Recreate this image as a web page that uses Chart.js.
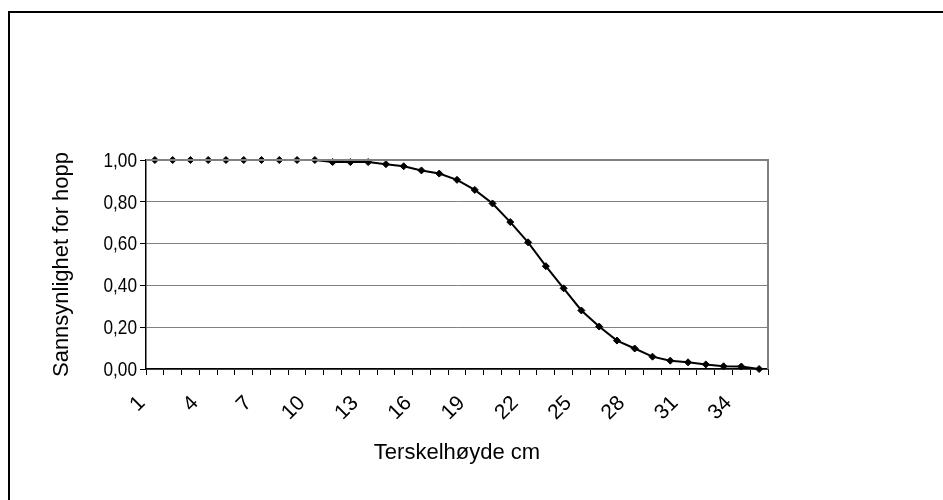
<!DOCTYPE html>
<html>
<head>
<meta charset="utf-8">
<title>Sannsynlighet for hopp</title>
<script src="https://cdn.jsdelivr.net/npm/chart.js@4/dist/chart.umd.min.js"></script>
<style>
  html, body { margin: 0; padding: 0; background: #fff; }
  canvas { display: block; }
</style>
</head>
<body>
<canvas id="chart" width="943" height="500"></canvas>
<script>
// Threshold heights (cm) on the category axis
const heights = [1, 2, 3, 4, 5, 6, 7, 8, 9, 10, 11, 12, 13, 14, 15, 16, 17, 18,
                 19, 20, 21, 22, 23, 24, 25, 26, 27, 28, 29, 30, 31, 32, 33, 34, 35];

// Probability of a jump at each threshold height
const jumpProbability = [1.00, 1.00, 1.00, 1.00, 1.00, 1.00, 1.00, 1.00, 1.00, 1.00,
                         0.99, 0.99, 0.99, 0.98, 0.97, 0.95, 0.935, 0.905, 0.857, 0.792,
                         0.703, 0.606, 0.492, 0.386, 0.280, 0.203, 0.136, 0.098, 0.059, 0.040,
                         0.032, 0.022, 0.013, 0.012, 0.00];

// Only every third height gets a label
const labelEvery = 3;

const yTitle = 'Sannsynlighet for hopp';
const xTitle = 'Terskelhøyde cm';

const FONT = '"Liberation Sans", Arial, sans-serif';

// Outer frame, grey top/right plot edges, and condensed y tick labels
const framePlugin = {
  id: 'frame',
  beforeDraw(chart) {
    const ctx = chart.ctx;
    ctx.save();
    ctx.fillStyle = '#fff';
    ctx.fillRect(0, 0, chart.width, chart.height);
    ctx.strokeStyle = '#000';
    ctx.lineWidth = 2;
    ctx.strokeRect(9, 12, chart.width + 20, chart.height + 20);
    ctx.restore();
  },
  afterDatasetsDraw(chart) {
    const { ctx, chartArea: a } = chart;
    ctx.save();
    ctx.strokeStyle = '#808080';
    ctx.lineWidth = 2;
    ctx.beginPath();
    ctx.moveTo(a.left, a.top);
    ctx.lineTo(a.right, a.top);
    ctx.lineTo(a.right, a.bottom);
    ctx.stroke();
    ctx.restore();
  },
  afterDraw(chart) {
    const ctx = chart.ctx;
    const s = chart.scales.y;
    const gap = s.options.grid.tickLength + 3;
    ctx.save();
    ctx.fillStyle = '#000';
    ctx.font = '21px ' + FONT;
    ctx.textAlign = 'right';
    ctx.textBaseline = 'middle';
    s.ticks.forEach((t, i) => {
      const y = s.getPixelForTick(i);
      ctx.save();
      ctx.translate(s.right - gap, y + 1);
      ctx.scale(0.82, 1);
      ctx.fillText(t.label, 0, 0);
      ctx.restore();
    });
    ctx.restore();
  }
};

new Chart(document.getElementById('chart'), {
  type: 'line',
  data: {
    labels: heights.map(String),
    datasets: [{
      data: jumpProbability,
      borderColor: '#000',
      backgroundColor: '#000',
      borderWidth: 2,
      pointStyle: 'rectRot',
      pointRadius: 3.5,
      pointBorderWidth: 1,
      tension: 0,
      clip: false
    }]
  },
  options: {
    responsive: false,
    animation: false,
    devicePixelRatio: 1,
    layout: { padding: { left: 20, top: 160, right: 175, bottom: 20 } },
    plugins: { legend: { display: false }, tooltip: { enabled: false }, title: { display: false } },
    scales: {
      x: {
        type: 'category',
        offset: true,
        afterFit(scale) { scale.height = 111; },
        grid: {
          offset: true,
          drawOnChartArea: false,
          drawTicks: true,
          tickLength: 6,
          tickColor: '#000'
        },
        border: { color: '#000', width: 1.5 },
        ticks: {
          autoSkip: false,
          minRotation: 45,
          maxRotation: 45,
          padding: 16,
          labelOffset: -13,
          color: '#000',
          font: { family: FONT, size: 21 },
          callback(value, index) { return index % labelEvery === 0 ? heights[index] : ''; }
        },
        title: {
          display: true,
          text: xTitle,
          color: '#000',
          font: { family: FONT, size: 22 },
          padding: { top: 0, bottom: 14 }
        }
      },
      y: {
        min: 0,
        max: 1,
        afterFit(scale) { scale.width = 126; },
        grid: {
          color: '#808080',
          lineWidth: 1,
          tickLength: 6,
          tickColor: '#000'
        },
        border: { color: '#000', width: 1.5 },
        ticks: {
          stepSize: 0.2,
          padding: 3,
          color: 'rgba(0,0,0,0)',
          font: { family: FONT, size: 18 },
          callback(value) { return value.toFixed(2).replace('.', ','); }
        },
        title: {
          display: true,
          text: yTitle,
          color: '#000',
          font: { family: FONT, size: 22 },
          padding: { top: 29, bottom: 0 }
        }
      }
    }
  },
  plugins: [framePlugin]
});
</script>
</body>
</html>
